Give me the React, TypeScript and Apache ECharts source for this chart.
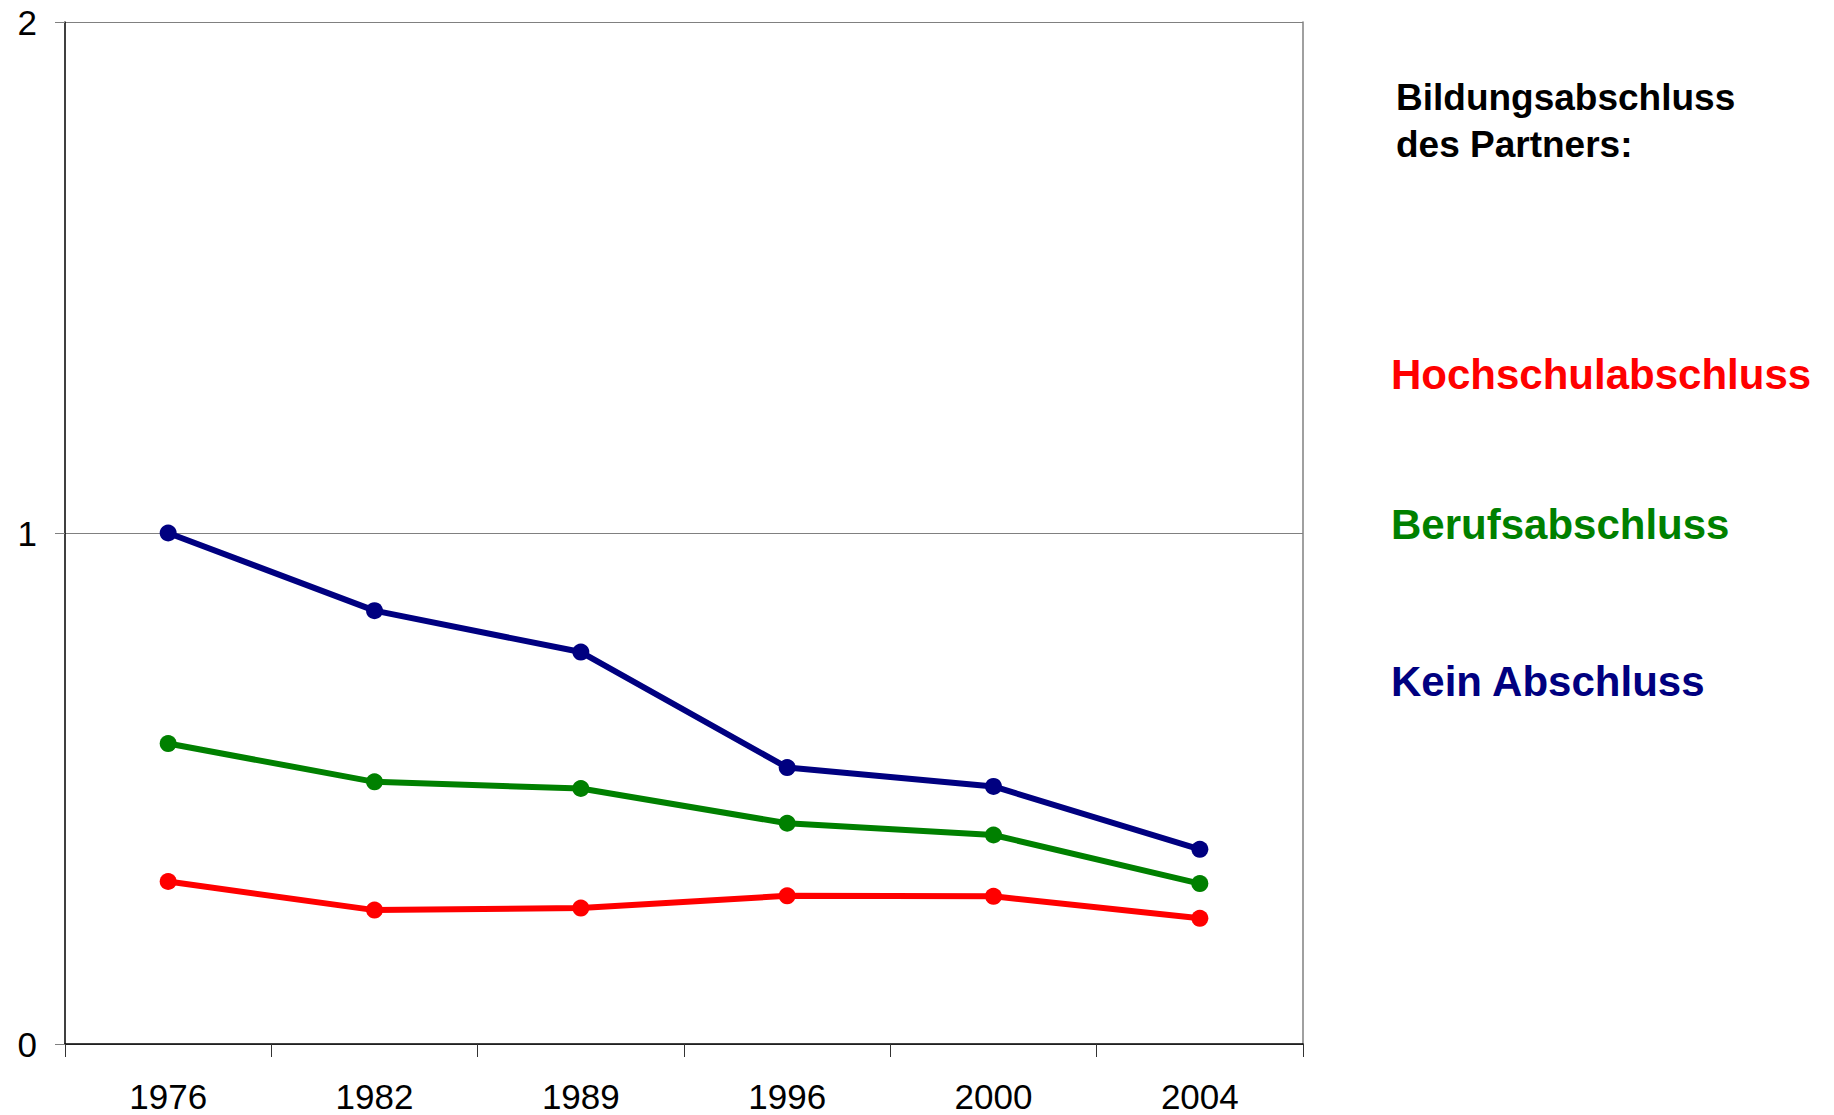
import React, { useEffect, useRef } from "react";
import * as echarts from "echarts";

const categories = ["1976", "1982", "1989", "1996", "2000", "2004"];
const keinAbschluss = [1.0, 0.848, 0.767, 0.541, 0.504, 0.381];
const berufsabschluss = [0.588, 0.513, 0.5, 0.432, 0.409, 0.314];
const hochschulabschluss = [0.318, 0.262, 0.266, 0.29, 0.289, 0.246];
const yTicks = { min: 0, max: 2, interval: 1 };
const titleLines = ["Bildungsabschluss", "des Partners:"];
const seriesNames = ["Hochschulabschluss", "Berufsabschluss", "Kein Abschluss"];

const FONT = '"Liberation Sans", Arial, sans-serif';
const RED = "#FF0000";
const GREEN = "#008000";
const NAVY = "#000080";

export default function App() {
  const ref = useRef<HTMLDivElement>(null);
  useEffect(() => {
    if (!ref.current) return;
    const chart = echarts.init(ref.current, null, { renderer: "svg" });
    const lineSeries = (name: string, data: number[], color: string) => ({
      name,
      type: "line",
      data,
      symbol: "circle",
      symbolSize: 17,
      lineStyle: { color, width: 6 },
      itemStyle: { color },
      z: 5,
    });
    chart.setOption({
      animation: false,
      backgroundColor: "#ffffff",
      grid: { left: 65, right: 531, top: 22, bottom: 71 },
      xAxis: {
        type: "category",
        data: categories,
        boundaryGap: true,
        axisLine: { show: true, lineStyle: { color: "#000", width: 1.5 } },
        axisTick: { show: true, length: 13, lineStyle: { color: "#333", width: 1 } },
        axisLabel: {
          color: "#000",
          fontSize: 35,
          fontFamily: FONT,
          margin: 37,
          lineHeight: 30,
        },
        splitLine: { show: false },
      },
      yAxis: [
        {
          type: "value",
          min: yTicks.min,
          max: yTicks.max,
          interval: yTicks.interval,
          axisLine: { show: true, lineStyle: { color: "#000", width: 1.5 } },
          axisTick: { show: true, length: 10, lineStyle: { color: "#808080", width: 1 } },
          axisLabel: { color: "#000", fontSize: 35, fontFamily: FONT, margin: 28 },
          splitLine: { show: true, lineStyle: { color: "#808080", width: 1 } },
        },
        {
          type: "value",
          position: "right",
          min: yTicks.min,
          max: yTicks.max,
          interval: yTicks.interval,
          axisLine: { show: true, lineStyle: { color: "#808080", width: 1.5 } },
          axisTick: { show: false },
          axisLabel: { show: false },
          splitLine: { show: false },
        },
      ],
      series: [
        lineSeries(seriesNames[2], keinAbschluss, NAVY),
        lineSeries(seriesNames[1], berufsabschluss, GREEN),
        lineSeries(seriesNames[0], hochschulabschluss, RED),
      ],
      graphic: [
        {
          type: "text",
          left: 1396,
          top: 74,
          style: {
            text: titleLines.join("\n"),
            fill: "#000",
            font: `bold 37px ${FONT}`,
            lineHeight: 47,
          },
        },
        {
          type: "text",
          left: 1391,
          top: 353,
          style: { text: seriesNames[0], fill: RED, font: `bold 42px ${FONT}` },
        },
        {
          type: "text",
          left: 1391,
          top: 503,
          style: { text: seriesNames[1], fill: GREEN, font: `bold 42px ${FONT}` },
        },
        {
          type: "text",
          left: 1391,
          top: 660,
          style: { text: seriesNames[2], fill: NAVY, font: `bold 42px ${FONT}` },
        },
      ],
    });
    return () => chart.dispose();
  }, []);
  return (
    <div
      ref={ref}
      style={{ position: "fixed", left: 0, top: 0, width: 1834, height: 1115, background: "#fff" }}
    />
  );
}
